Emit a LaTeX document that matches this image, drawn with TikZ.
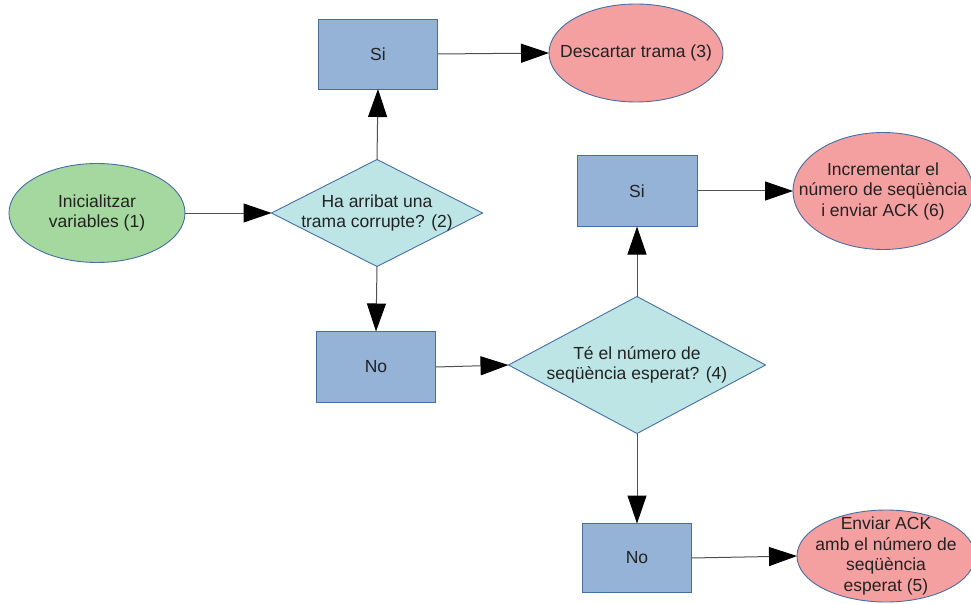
\documentclass[tikz,border=0pt]{standalone}
\usepackage{fontspec}
\setmainfont{Liberation Sans}
\usetikzlibrary{arrows.meta,shapes.geometric}

\definecolor{startfill}{RGB}{164,216,158}
\definecolor{endfill}{RGB}{244,160,160}
\definecolor{boxfill}{RGB}{149,179,215}
\definecolor{decfill}{RGB}{190,229,229}
\definecolor{edgeblue}{RGB}{70,110,165}
\definecolor{inkgray}{RGB}{34,34,34}
\definecolor{linegray}{RGB}{80,80,80}

\tikzset{
  x=1pt, y=-1pt,
  shapebase/.style={draw=edgeblue, line width=0.9pt, inner sep=0pt, outer sep=0pt},
  startnode/.style={shapebase, ellipse, fill=startfill},
  endnode/.style={shapebase, ellipse, fill=endfill},
  choice/.style={shapebase, rectangle, fill=boxfill},
  question/.style={shapebase, diamond, aspect=1, fill=decfill},
  txt/.style={align=center, text=inkgray, inner sep=0pt,
    font=\fontsize{17.5}{20.5}\selectfont},
  flow/.style={draw=linegray, line width=1pt,
    -{Triangle[length=28pt,width=19pt,color=black]}},
}

\begin{document}
\begin{tikzpicture}
\useasboundingbox (0,0) rectangle (971,604);

% start
\node[startnode, minimum width=176pt, minimum height=99pt,
  label={[txt]center:Inicialitzar\\variables (1)}] (ini) at (97,213) {};

% first decision
\node[question, minimum width=211pt, minimum height=107pt,
  label={[txt]center:Ha arribat una\\trama corrupte? (2)}] (q1) at (377,213) {};
\node[choice, minimum width=119pt, minimum height=70pt,
  label={[txt]center:Si}] (si1) at (378,54) {};
\node[endnode, minimum width=174pt, minimum height=98pt,
  label={[txt]center:Descartar trama (3)}] (e3) at (636,53) {};
\node[choice, minimum width=119pt, minimum height=71pt,
  label={[txt]center:No}] (no1) at (376,367) {};

% second decision
\node[question, minimum width=257pt, minimum height=137pt,
  label={[txt]center:Té el número de\\seqüència esperat? (4)}] (q2) at (637,365) {};
\node[choice, minimum width=120pt, minimum height=71pt,
  label={[txt]center:Si}] (si2) at (637,191) {};
\node[endnode, minimum width=180pt, minimum height=117pt,
  label={[txt]center:Incrementar el\\número de seqüència\\i enviar ACK (6)}] (e6) at (883,191) {};
\node[choice, minimum width=109pt, minimum height=69pt,
  label={[txt]center:No}] (no2) at (637,558) {};
\node[endnode, minimum width=178pt, minimum height=92pt,
  label={[txt]center:Enviar ACK\\amb el número de\\seqüència\\esperat (5)}] (e5) at (886,556) {};

% connectors
\draw[flow] (ini.east) -- (q1.west);
\draw[flow] (q1.north) -- (si1.south);
\draw[flow] (si1.east) -- (e3.west);
\draw[flow] (q1.south) -- (no1.north);
\draw[flow] (no1.east) -- (q2.west);
\draw[flow] (q2.north) -- (si2.south);
\draw[flow] (si2.east) -- (e6.west);
\draw[flow] (q2.south) -- (no2.north);
\draw[flow] (no2.east) -- (e5.west);
\end{tikzpicture}
\end{document}
